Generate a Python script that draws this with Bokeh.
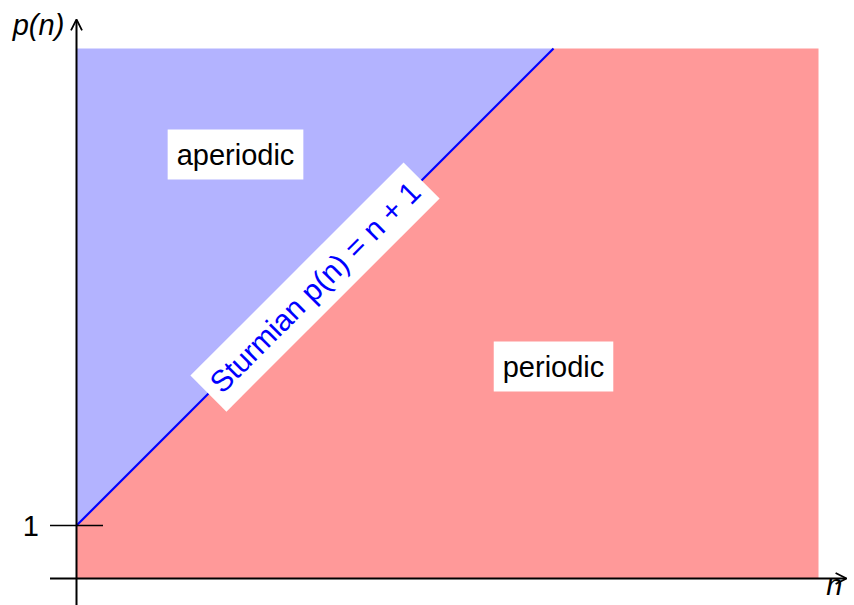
from bokeh.plotting import figure
from bokeh.models import Range1d, Label, Arrow, OpenHead
from bokeh.embed import file_html
from bokeh.resources import INLINE

# Data (in axis units)
n_max = 14          # right edge of shaded area
p_max = 10          # top edge of shaded area
sturm_n = [0, 9]    # Sturmian line p(n) = n + 1
sturm_p = [1, 10]
tick_vals = [1]
tick_labels = ["1"]
region_labels = ["aperiodic", "periodic"]
region_x = [3, 9]
region_y = [8, 4]

FONT = "Liberation Sans"
FS = "29px"

p = figure(width=854, height=605, output_backend="svg", toolbar_location=None,
           x_range=Range1d(-1.434, 14.679), y_range=Range1d(-0.509, 10.906),
           min_border=0)
p.axis.visible = False
p.grid.visible = False
p.outline_line_color = None
p.background_fill_color = "white"

# Regions
blue_x = [sturm_n[0], sturm_n[1], 0]
blue_y = [sturm_p[0], sturm_p[1], p_max]
p.patch(blue_x, blue_y, fill_color="#b3b3ff", line_color=None)
red_x = [0, sturm_n[0], sturm_n[1], n_max, n_max]
red_y = [0, sturm_p[0], sturm_p[1], p_max, 0]
p.patch(red_x, red_y, fill_color="#ff9999", line_color=None)

# Sturmian line
p.line(sturm_n, sturm_p, line_color="#0000ff", line_width=2.2)

# Axes with arrows
p.add_layout(Arrow(end=OpenHead(size=11, line_width=1.8, line_color="black"),
                   x_start=-0.5, y_start=0, x_end=14.53, y_end=0,
                   line_width=2, line_color="black"))
p.add_layout(Arrow(end=OpenHead(size=11, line_width=1.8, line_color="black"),
                   x_start=0, y_start=-0.6, x_end=0, y_end=10.55,
                   line_width=2, line_color="black"))

# Tick at p = 1
for tv, tl in zip(tick_vals, tick_labels):
    p.segment(x0=[-0.5], y0=[tv], x1=[0.5], y1=[tv], line_color="black", line_width=1.5)
    p.add_layout(Label(x=-0.86, y=tv, text=tl, text_align="center", text_baseline="middle",
                       text_font=FONT, text_font_size=FS, text_color="black"))

# Axis labels
p.add_layout(Label(x=-0.23, y=10.45, text="p(n)", text_align="right", text_baseline="middle",
                   text_font=FONT, text_font_size=FS, text_font_style="italic",
                   text_color="black"))
p.add_layout(Label(x=14.3, y=-0.12, text="n", text_align="center", text_baseline="alphabetic",
                   text_font=FONT, text_font_size=FS, text_font_style="italic",
                   text_color="black"))

# Region labels
for rx, ry, rl in zip(region_x, region_y, region_labels):
    p.add_layout(Label(x=rx, y=ry, text=rl, text_align="center", text_baseline="middle",
                       text_font=FONT, text_font_size=FS, text_color="black",
                       background_fill_color="white", padding=9))

# Sturmian label
p.add_layout(Label(x=4.5, y=5.5, text="Sturmian p(n) = n + 1", text_align="center",
                   text_baseline="middle", angle=45, angle_units="deg",
                   text_font=FONT, text_font_size="30px", text_color="#0000ff",
                   background_fill_color="white", padding=9))

open("out.html", "w").write(file_html(p, INLINE))
